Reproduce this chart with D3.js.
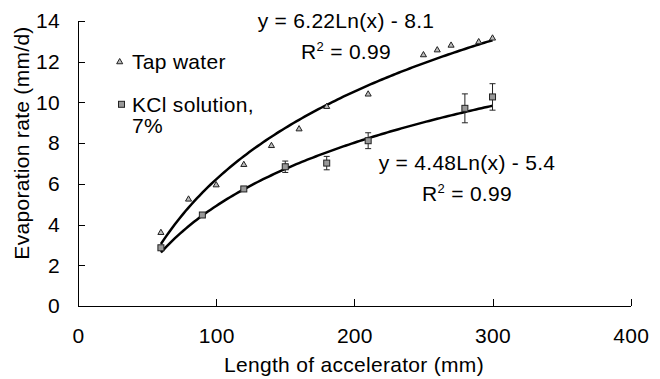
<!DOCTYPE html>
<html>
<head>
<meta charset="utf-8">
<style>
  body { margin: 0; background: #fff; }
  svg text { font-family: "Liberation Sans", Arial, Helvetica, sans-serif; font-size: 21px; letter-spacing: 0.3px; fill: #000; }
  .axis path, .axis line { stroke: #000; stroke-width: 1px; shape-rendering: crispEdges; }
  .trend { fill: none; stroke: #000; stroke-width: 2.5px; }
</style>
<script src="https://cdn.jsdelivr.net/npm/d3@7"></script>
</head>
<body>
<div id="chart"></div>
<script>
// tap water
var tapX = [60, 80, 100, 120, 140, 160, 180, 210, 250, 260, 270, 290, 300];
var tapY = [3.6, 5.24, 5.94, 6.94, 7.87, 8.69, 9.79, 10.4, 12.33, 12.57, 12.8, 12.97, 13.15];
// KCl solution, 7%
var kclX = [60, 90, 120, 150, 180, 210, 280, 300];
var kclY = [2.86, 4.47, 5.75, 6.84, 7.02, 8.12, 9.71, 10.27];
var kclErr = [0, 0, 0, 0.28, 0.33, 0.39, 0.71, 0.65];
// trendlines y = a*Ln(x) + b, x in cm
var trendA = [6.22, 4.48];
var trendB = [-8.1, -5.4];
var trendRange = [60, 300];
var xTicks = [0, 100, 200, 300, 400];
var yTicks = [0, 2, 4, 6, 8, 10, 12, 14];

var W = 660, H = 379;
var svg = d3.select("#chart").append("svg").attr("width", W).attr("height", H);

var x = d3.scaleLinear().domain([0, 400]).range([78, 630.7]);
var y = d3.scaleLinear().domain([0, 14]).range([306, 21]);

svg.append("g").attr("class", "axis")
    .attr("transform", "translate(0,306)")
    .call(d3.axisBottom(x).tickValues(xTicks).tickSize(-7).tickSizeOuter(0).tickPadding(22))
    .call(function(g) { g.selectAll("text").style("font-size", "21px"); });

svg.append("g").attr("class", "axis")
    .attr("transform", "translate(78,0)")
    .call(d3.axisLeft(y).tickValues(yTicks).tickSize(-7).tickSizeOuter(0).tickPadding(18))
    .call(function(g) { g.selectAll("text").style("font-size", "21px"); });

svg.selectAll(".axis").attr("font-size", null).attr("font-family", null);

svg.append("text").attr("x", 354).attr("y", 372).attr("text-anchor", "middle")
    .text("Length of accelerator (mm)");
svg.append("text").attr("transform", "translate(29,143) rotate(-90)").attr("text-anchor", "middle")
    .text("Evaporation rate (mm/d)");

// trendlines
var line = d3.line().x(function(d) { return x(d[0]); }).y(function(d) { return y(d[1]); });
trendA.forEach(function(a, i) {
  var pts = d3.range(trendRange[0], trendRange[1] + 1, 2).map(function(v) {
    return [v, a * Math.log(v / 10) + trendB[i]];
  });
  svg.append("path").attr("class", "trend").attr("d", line(pts));
});

// error bars
var eb = svg.append("g").attr("stroke", "#222").attr("stroke-width", 1);
kclX.forEach(function(v, i) {
  if (!kclErr[i]) return;
  var cx = x(v), y1 = y(kclY[i] + kclErr[i]), y2 = y(kclY[i] - kclErr[i]);
  eb.append("line").attr("x1", cx).attr("x2", cx).attr("y1", y1).attr("y2", y2);
  eb.append("line").attr("x1", cx - 3).attr("x2", cx + 3).attr("y1", y1).attr("y2", y1);
  eb.append("line").attr("x1", cx - 3).attr("x2", cx + 3).attr("y1", y2).attr("y2", y2);
});

var tri = d3.symbol().type(d3.symbolTriangle).size(16);
function triangles(g, xs, ys) {
  g.selectAll("path").data(xs).enter().append("path")
    .attr("d", tri)
    .attr("transform", function(d, i) { return "translate(" + x(d) + "," + y(ys[i]) + ")"; })
    .attr("fill", "#bbb").attr("stroke", "#222").attr("stroke-width", 1);
}
function squares(g, xs, ys) {
  g.selectAll("rect").data(xs).enter().append("rect")
    .attr("x", function(d) { return x(d) - 3; })
    .attr("y", function(d, i) { return y(ys[i]) - 3; })
    .attr("width", 6).attr("height", 6)
    .attr("fill", "#999").attr("stroke", "#222").attr("stroke-width", 1);
}
triangles(svg.append("g"), tapX, tapY);
squares(svg.append("g"), kclX, kclY);

// legend
svg.append("path").attr("d", tri).attr("transform", "translate(119.7,62)")
  .attr("fill", "#bbb").attr("stroke", "#222").attr("stroke-width", 1);
svg.append("text").attr("x", 132).attr("y", 69).text("Tap water");
svg.append("rect").attr("x", 118.5).attr("y", 101.3).attr("width", 6).attr("height", 6)
  .attr("fill", "#999").attr("stroke", "#222").attr("stroke-width", 1);
svg.append("text").attr("x", 132).attr("y", 112).text("KCl solution,");
svg.append("text").attr("x", 132).attr("y", 133).text("7%");

// equations
function eq(cx, yb, a, b) {
  svg.append("text").attr("x", cx).attr("y", yb).attr("text-anchor", "middle")
    .text("y = " + a.toFixed(2) + "Ln(x) - " + Math.abs(b).toFixed(1));
  var t = svg.append("text").attr("x", cx).attr("y", yb + 31).attr("text-anchor", "middle");
  t.append("tspan").text("R");
  t.append("tspan").attr("dy", -8).style("font-size", "13px").text("2");
  t.append("tspan").attr("dy", 8).text(" = 0.99");
}
eq(346, 28, trendA[0], trendB[0]);
eq(467, 170, trendA[1], trendB[1]);
</script>
</body>
</html>
